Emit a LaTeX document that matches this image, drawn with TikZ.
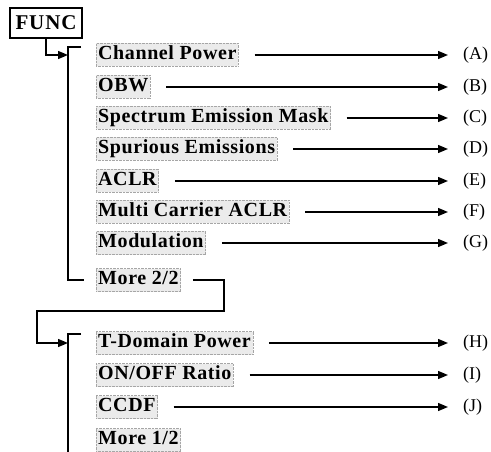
\documentclass[tikz,border=0pt]{standalone}
\usepackage{fontspec}
\setmainfont{Liberation Serif}
\usetikzlibrary{arrows.meta}

\tikzset{
  fnkey/.style={draw, line width=1.6pt, inner sep=0pt, minimum width=72pt, minimum height=30pt,
    font=\fontsize{21}{23}\selectfont\bfseries\addfontfeature{LetterSpace=4}},
  fnitem/.style={anchor=west, draw=gray!70, densely dotted, fill=gray!16,
    inner xsep=2pt, inner ysep=2.5pt, text height=13.5pt, text depth=4.5pt,
    font=\fontsize{20}{22}\selectfont\bfseries\addfontfeature{LetterSpace=3}},
  fnlabel/.style={anchor=west, inner sep=0pt, text height=13.5pt, text depth=4.5pt,
    font=\fontsize{18}{20}\selectfont},
  fnline/.style={line width=1.4pt},
  fnarrow/.style={line width=1.4pt, -{Triangle[length=10pt, width=8pt]}}
}

\begin{document}
\begin{tikzpicture}[x=1pt, y=-1pt]
\useasboundingbox (0,0) rectangle (491,452);
\node[fnkey] (func) at (46,23) {FUNC};
% first page
\node[fnitem] (cp) at (96,55) {Channel Power};
\node[fnitem] (obw) at (96,87) {OBW};
\node[fnitem] (sem) at (96,118) {Spectrum Emission Mask};
\node[fnitem] (spur) at (96,149) {Spurious Emissions};
\node[fnitem] (aclr) at (96,181) {ACLR};
\node[fnitem] (mcaclr) at (96,212) {Multi Carrier ACLR};
\node[fnitem] (mod) at (96,243) {Modulation};
\node[fnitem] (more2) at (96,280) {More 2/2};
% second page
\node[fnitem] (tdp) at (96,343) {T-Domain Power};
\node[fnitem] (onoff) at (96,375) {ON/OFF Ratio};
\node[fnitem] (ccdf) at (96,407) {CCDF};
\node[fnitem] (more1) at (96,440) {More 1/2};
% results
\node[fnlabel] (la) at (463,55) {(A)};
\node[fnlabel] (lb) at (463,87) {(B)};
\node[fnlabel] (lc) at (463,118) {(C)};
\node[fnlabel] (ld) at (463,149) {(D)};
\node[fnlabel] (le) at (463,181) {(E)};
\node[fnlabel] (lf) at (463,212) {(F)};
\node[fnlabel] (lg) at (463,243) {(G)};
\node[fnlabel] (lh) at (463,343) {(H)};
\node[fnlabel] (li) at (463,375) {(I)};
\node[fnlabel] (lj) at (463,407) {(J)};
\coordinate (br1) at (68,55);
\coordinate (br2) at (68,343);
\coordinate (bend) at (224,311);
\coordinate (turn) at (37,311);
% brackets
\draw[fnline] (81,47) -- (68,47) -- (68,280) -- (84,280);
\draw[fnline] (81,334) -- (68,334) -- (68,452);
% connectors
\draw[fnarrow] (func.south) |- (br1);
\draw[fnarrow] ([xshift=12pt]more2.east) -| (bend) -- (turn) |- (br2);
\foreach \src/\dst in {cp/la, obw/lb, sem/lc, spur/ld, aclr/le, mcaclr/lf, mod/lg, tdp/lh, onoff/li, ccdf/lj}
  \draw[fnarrow] ([xshift=16pt]\src.east) -- ([xshift=-15pt]\dst.west);
\end{tikzpicture}
\end{document}
